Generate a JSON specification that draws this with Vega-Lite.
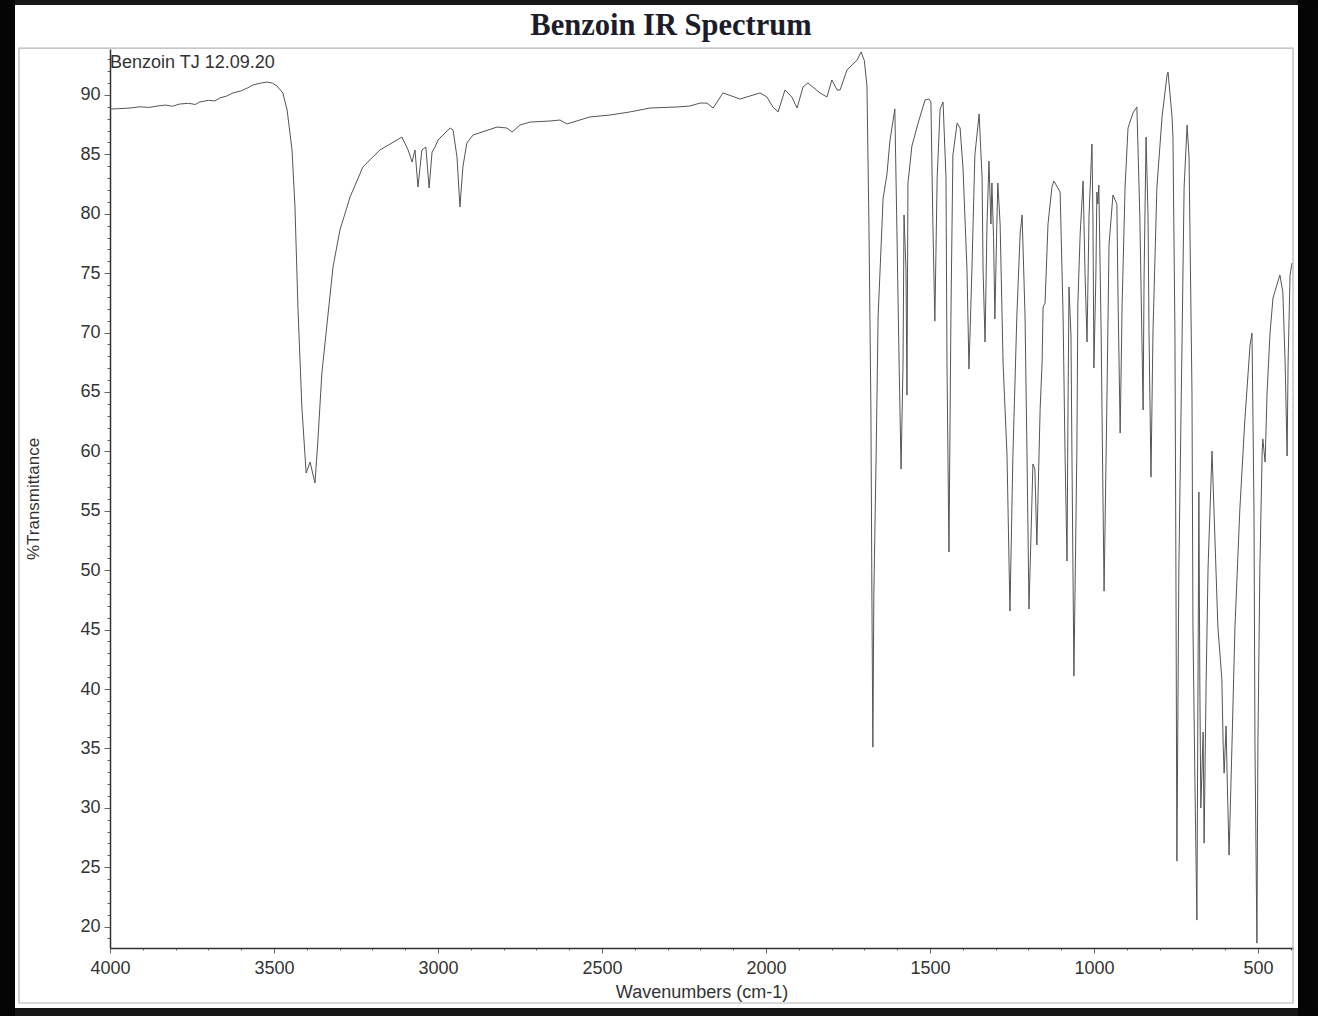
{
  "$schema": "https://vega.github.io/schema/vega-lite/v6.json",
  "width": 1183,
  "height": 899,
  "autosize": "none",
  "padding": {"left": 110, "top": 49, "right": 25, "bottom": 68},
  "background": "white",
  "config": {
    "view": {"stroke": null},
    "axis": {"labelOverlap": false, "labelFlush": false, "labelBound": false, "grid": false, "domainColor": "#333333", "domainWidth": 1.5, "tickColor": "#666666", "labelFont": "Liberation Sans", "labelFontSize": 18, "labelColor": "#333333", "titleFont": "Liberation Sans", "titleFontWeight": "normal", "titleColor": "#333333"}
  },
  "resolve": {"axis": {"x": "independent", "y": "independent"}},
  "layer": [
    {
      "data": {"values": [{"wn":4000,"t":88.82},{"wn":3970,"t":88.85},{"wn":3939,"t":88.9},{"wn":3910,"t":89.0},{"wn":3880,"t":88.95},{"wn":3857,"t":89.07},{"wn":3830,"t":89.15},{"wn":3810,"t":89.05},{"wn":3787,"t":89.24},{"wn":3760,"t":89.3},{"wn":3740,"t":89.2},{"wn":3726,"t":89.41},{"wn":3700,"t":89.55},{"wn":3680,"t":89.5},{"wn":3665,"t":89.75},{"wn":3645,"t":89.9},{"wn":3625,"t":90.17},{"wn":3600,"t":90.35},{"wn":3580,"t":90.6},{"wn":3564,"t":90.84},{"wn":3540,"t":91.0},{"wn":3521,"t":91.09},{"wn":3505,"t":91.0},{"wn":3491,"t":90.76},{"wn":3473,"t":90.17},{"wn":3460,"t":88.74},{"wn":3445,"t":85.37},{"wn":3436,"t":80.57},{"wn":3427,"t":72.15},{"wn":3415,"t":63.73},{"wn":3402,"t":58.18},{"wn":3390,"t":59.1},{"wn":3375,"t":57.34},{"wn":3366,"t":60.96},{"wn":3354,"t":66.6},{"wn":3338,"t":70.8},{"wn":3320,"t":75.52},{"wn":3299,"t":78.63},{"wn":3268,"t":81.41},{"wn":3229,"t":83.94},{"wn":3177,"t":85.37},{"wn":3125,"t":86.21},{"wn":3110,"t":86.46},{"wn":3091,"t":85.37},{"wn":3079,"t":84.36},{"wn":3070,"t":85.37},{"wn":3061,"t":82.25},{"wn":3049,"t":85.37},{"wn":3037,"t":85.62},{"wn":3027,"t":82.17},{"wn":3018,"t":85.2},{"wn":3009,"t":85.62},{"wn":3000,"t":86.21},{"wn":2963,"t":87.22},{"wn":2954,"t":87.05},{"wn":2942,"t":84.78},{"wn":2933,"t":80.57},{"wn":2924,"t":83.94},{"wn":2912,"t":85.96},{"wn":2893,"t":86.63},{"wn":2820,"t":87.3},{"wn":2790,"t":87.22},{"wn":2774,"t":86.88},{"wn":2750,"t":87.47},{"wn":2719,"t":87.72},{"wn":2658,"t":87.81},{"wn":2628,"t":87.89},{"wn":2607,"t":87.56},{"wn":2537,"t":88.15},{"wn":2476,"t":88.31},{"wn":2415,"t":88.57},{"wn":2354,"t":88.9},{"wn":2271,"t":88.99},{"wn":2232,"t":89.07},{"wn":2201,"t":89.32},{"wn":2180,"t":89.32},{"wn":2161,"t":88.9},{"wn":2131,"t":90.17},{"wn":2079,"t":89.66},{"wn":2018,"t":90.17},{"wn":1997,"t":89.83},{"wn":1979,"t":88.99},{"wn":1963,"t":88.57},{"wn":1942,"t":90.42},{"wn":1921,"t":89.83},{"wn":1905,"t":88.9},{"wn":1887,"t":90.67},{"wn":1872,"t":91.01},{"wn":1835,"t":90.17},{"wn":1814,"t":89.83},{"wn":1799,"t":91.26},{"wn":1783,"t":90.42},{"wn":1774,"t":90.42},{"wn":1753,"t":92.1},{"wn":1722,"t":92.94},{"wn":1710,"t":93.62},{"wn":1700,"t":92.9},{"wn":1692,"t":90.76},{"wn":1686,"t":79.14},{"wn":1680,"t":63.57},{"wn":1677,"t":48.08},{"wn":1674,"t":35.11},
        {"wn":1671,"t":48.08},{"wn":1664,"t":59.69},{"wn":1658,"t":71.39},{"wn":1646,"t":79.14},{"wn":1643,"t":81.24},{"wn":1631,"t":83.35},{"wn":1622,"t":86.13},{"wn":1607,"t":88.82},{"wn":1601,"t":79.14},{"wn":1594,"t":67.44},{"wn":1588,"t":58.51},{"wn":1582,"t":67.44},{"wn":1579,"t":79.9},{"wn":1573,"t":75.27},{"wn":1570,"t":64.74},{"wn":1567,"t":82.59},{"wn":1555,"t":85.7},{"wn":1536,"t":87.64},{"wn":1515,"t":89.58},{"wn":1503,"t":89.66},{"wn":1497,"t":89.41},{"wn":1491,"t":79.14},{"wn":1485,"t":70.97},{"wn":1478,"t":83.01},{"wn":1469,"t":88.82},{"wn":1460,"t":89.41},{"wn":1451,"t":83.01},{"wn":1448,"t":67.44},{"wn":1442,"t":51.53},{"wn":1436,"t":71.39},{"wn":1430,"t":84.95},{"wn":1417,"t":87.64},{"wn":1408,"t":87.22},{"wn":1399,"t":83.77},{"wn":1387,"t":75.27},{"wn":1381,"t":66.93},{"wn":1372,"t":75.27},{"wn":1363,"t":84.95},{"wn":1350,"t":88.4},{"wn":1341,"t":83.01},{"wn":1338,"t":75.27},{"wn":1332,"t":69.21},{"wn":1326,"t":79.14},{"wn":1320,"t":84.44},{"wn":1314,"t":79.14},{"wn":1311,"t":82.59},{"wn":1306,"t":78.0},{"wn":1302,"t":71.14},{"wn":1296,"t":79.14},{"wn":1293,"t":82.59},{"wn":1286,"t":79.14},{"wn":1277,"t":67.44},{"wn":1265,"t":59.69},{"wn":1256,"t":46.56},{"wn":1247,"t":59.69},{"wn":1235,"t":71.39},{"wn":1225,"t":78.3},{"wn":1219,"t":79.9},{"wn":1210,"t":71.39},{"wn":1204,"t":59.69},{"wn":1198,"t":46.73},{"wn":1189,"t":55.82},{"wn":1186,"t":58.94},{"wn":1180,"t":58.51},{"wn":1174,"t":52.12},{"wn":1164,"t":63.57},{"wn":1158,"t":67.44},{"wn":1155,"t":72.15},{"wn":1149,"t":72.49},{"wn":1140,"t":79.14},{"wn":1128,"t":82.25},{"wn":1122,"t":82.76},{"wn":1103,"t":81.83},{"wn":1094,"t":71.39},{"wn":1088,"t":59.69},{"wn":1082,"t":50.77},{"wn":1079,"t":63.57},{"wn":1076,"t":73.84},{"wn":1070,"t":69.79},{"wn":1067,"t":59.69},{"wn":1061,"t":41.09},{"wn":1052,"t":60.03},{"wn":1049,"t":72.4},{"wn":1042,"t":78.3},{"wn":1033,"t":82.76},{"wn":1027,"t":74.85},{"wn":1021,"t":69.21},{"wn":1015,"t":79.81},{"wn":1006,"t":85.87},{"wn":1003,"t":79.81},{"wn":1000,"t":67.02},{"wn":994,"t":74.85},{"wn":991,"t":81.83},{"wn":988,"t":80.82},{"wn":985,"t":82.42},{"wn":978,"t":69.96},{"wn":972,"t":55.15},{"wn":969,"t":48.24},{"wn":960,"t":65.0},{"wn":954,"t":77.37},{"wn":942,"t":81.58},{"wn":930,"t":80.82},{"wn":927,"t":73.92},{"wn":920,"t":61.54},{"wn":914,"t":72.4},{"wn":905,"t":82.25},{"wn":896,"t":87.22},{"wn":881,"t":88.48},{"wn":869,"t":88.99},{"wn":860,"t":79.81},{"wn":850,"t":63.48},{"wn":847,"t":74.85},{"wn":841,"t":86.46},{"wn":835,"t":79.81},{"wn":832,"t":69.96},{"wn":826,"t":57.84},{"wn":820,"t":69.96},{"wn":808,"t":82.25},{"wn":792,"t":88.23},{"wn":777,"t":91.68},{"wn":774,"t":91.93},{"wn":762,"t":88.23},{"wn":759,"t":86.46},{"wn":753,"t":69.96},{"wn":750,"t":50.18},{"wn":747,"t":25.52},{"wn":741,"t":50.18},{"wn":731,"t":69.96},{"wn":725,"t":82.25},{"wn":716,"t":87.47},{"wn":710,"t":84.78},{"wn":701,"t":65.0},{"wn":698,"t":45.21},{"wn":692,"t":32.17},{"wn":686,"t":20.55},{"wn":680,"t":56.58},{"wn":677,"t":40.33},{"wn":674,"t":29.98},{"wn":667,"t":36.38},{"wn":664,"t":27.03},{"wn":658,"t":40.33},{"wn":652,"t":50.18},{"wn":640,"t":60.03},{"wn":631,"t":52.62},{"wn":622,"t":45.21},{"wn":610,"t":40.84},{"wn":606,"t":35.36},{"wn":603,"t":32.92},{"wn":597,"t":36.88},{"wn":594,"t":32.92},{"wn":588,"t":26.02},{"wn":579,"t":35.36},{"wn":570,"t":45.21},{"wn":555,"t":55.15},{"wn":540,"t":62.56},{"wn":524,"t":68.95},{"wn":518,"t":69.96},{"wn":512,"t":55.15},{"wn":509,"t":35.36},{"wn":503,"t":18.61},{"wn":500,"t":35.36},{"wn":494,"t":50.18},{"wn":487,"t":60.03},{"wn":485,"t":61.04},{"wn":478,"t":59.1},{"wn":472,"t":65.0},{"wn":463,"t":69.96},{"wn":454,"t":72.91},{"wn":433,"t":74.85},{"wn":424,"t":73.41},{"wn":417,"t":67.44},{"wn":411,"t":59.61},{"wn":408,"t":67.44},{"wn":402,"t":74.85},{"wn":396,"t":75.86}
      ]},
      "mark": {"type": "line", "stroke": "#555555", "strokeWidth": 1, "clip": true},
      "encoding": {
        "x": {
          "field": "wn", "type": "quantitative",
          "scale": {"domain": [4000, 393], "nice": false, "zero": false},
          "axis": {
            "values": [400,500,600,700,800,900,1000,1100,1200,1300,1400,1500,1600,1700,1800,1900,2000,2100,2200,2300,2400,2500,2600,2700,2800,2900,3000,3100,3200,3300,3400,3500,3600,3700,3800,3900,4000],
            "format": "d",
            "labelExpr": "datum.value % 500 === 0 ? datum.label : ''",
            "tickSize": {"condition": {"test": "datum.value % 500 === 0", "value": 5}, "value": 2},
            "labelOverlap": false,
            "labelPadding": 6,
            "title": "Wavenumbers (cm-1)", "titleFontSize": 18, "titlePadding": 6
          }
        },
        "y": {
          "field": "t", "type": "quantitative",
          "scale": {"domain": [18.2, 93.87], "nice": false, "zero": false},
          "axis": {
            "values": [19,20,21,22,23,24,25,26,27,28,29,30,31,32,33,34,35,36,37,38,39,40,41,42,43,44,45,46,47,48,49,50,51,52,53,54,55,56,57,58,59,60,61,62,63,64,65,66,67,68,69,70,71,72,73,74,75,76,77,78,79,80,81,82,83,84,85,86,87,88,89,90,91,92,93],
            "format": "d",
            "labelExpr": "datum.value % 5 === 0 ? datum.label : ''",
            "tickSize": {"condition": {"test": "datum.value % 5 === 0", "value": 6}, "value": 3},
            "labelOverlap": false,
            "labelPadding": 4,
            "title": "%Transmittance", "titleFontSize": 17,
            "titleX": -77, "titleBaseline": "middle"
          }
        }
      }
    },
    {
      "data": {"values": [{}]},
      "mark": {"type": "rect", "fillOpacity": 0, "stroke": "#b5b5b5", "strokeWidth": 1.2, "clip": false},
      "encoding": {
        "x": {"datum": 4277.5, "type": "quantitative", "axis": null},
        "x2": {"datum": 393},
        "y": {"datum": 93.95, "type": "quantitative", "axis": null},
        "y2": {"datum": 13.57}
      }
    },
    {
      "data": {"values": [{}]},
      "mark": {"type": "rect", "fill": "#161616", "clip": false},
      "encoding": {
        "x": {"datum": 4335.4, "type": "quantitative", "axis": null},
        "x2": {"datum": 316.8},
        "y": {"datum": 97.99, "type": "quantitative", "axis": null},
        "y2": {"datum": 97.57}
      }
    },
    {
      "data": {"values": [{}]},
      "mark": {"type": "rect", "fill": "#161616", "clip": false},
      "encoding": {
        "x": {"datum": 4335.4, "type": "quantitative", "axis": null},
        "x2": {"datum": 316.8},
        "y": {"datum": 13.15, "type": "quantitative", "axis": null},
        "y2": {"datum": 12.4}
      }
    },
    {
      "data": {"values": [{}]},
      "mark": {"type": "rect", "fill": "#050505", "clip": false},
      "encoding": {
        "x": {"datum": 4335.4, "type": "quantitative", "axis": null},
        "x2": {"datum": 4289.7},
        "y": {"datum": 97.99, "type": "quantitative", "axis": null},
        "y2": {"datum": 12.4}
      }
    },
    {
      "data": {"values": [{}]},
      "mark": {"type": "rect", "fill": "#050505", "clip": false},
      "encoding": {
        "x": {"datum": 377.8, "type": "quantitative", "axis": null},
        "x2": {"datum": 316.8},
        "y": {"datum": 97.99, "type": "quantitative", "axis": null},
        "y2": {"datum": 12.4}
      }
    },
    {
      "data": {"values": [{"label": "Benzoin TJ 12.09.20"}]},
      "mark": {"type": "text", "align": "left", "baseline": "alphabetic", "font": "Liberation Sans", "fontSize": 18, "color": "#333333"},
      "encoding": {
        "x": {"datum": 4000, "type": "quantitative", "axis": null},
        "y": {"datum": 92.27, "type": "quantitative", "axis": null},
        "text": {"field": "label"}
      }
    },
    {
      "data": {"values": [{"label": "Benzoin IR Spectrum"}]},
      "mark": {"type": "text", "align": "center", "baseline": "alphabetic", "font": "Liberation Serif", "fontSize": 30.5, "fontWeight": "bold", "color": "#1c1c2a", "clip": false},
      "encoding": {
        "x": {"datum": 2289.5, "type": "quantitative", "axis": null},
        "y": {"datum": 95.05, "type": "quantitative", "axis": null},
        "text": {"field": "label"}
      }
    }
  ]
}
